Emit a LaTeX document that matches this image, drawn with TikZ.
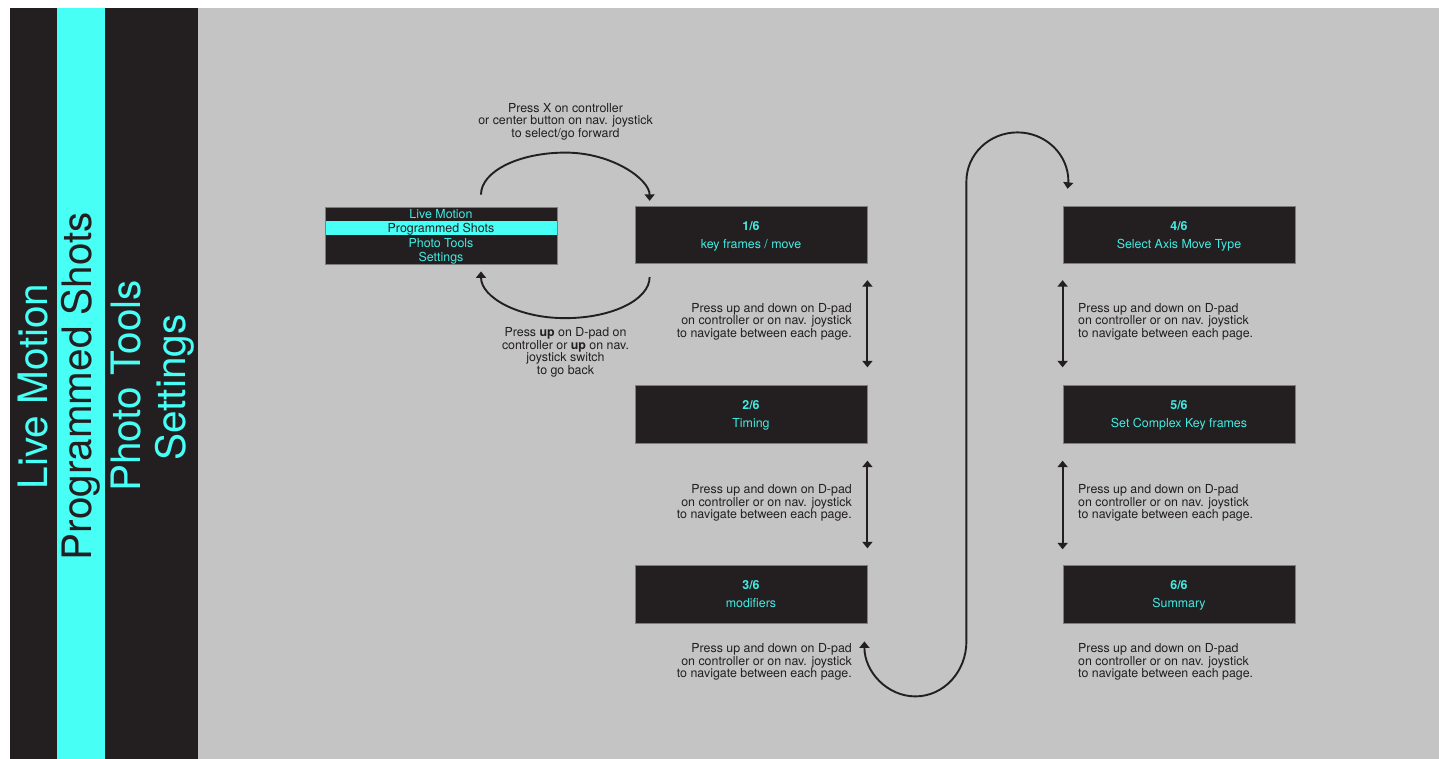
\documentclass[tikz,border=0pt]{standalone}
\usepackage{fontspec}
\setmainfont{TeX Gyre Heros}
\usetikzlibrary{arrows.meta}
\definecolor{ink}{RGB}{35,31,32}
\definecolor{cy}{RGB}{72,255,246}
\definecolor{cyt}{RGB}{66,236,228}
\definecolor{bg}{RGB}{196,196,196}
\definecolor{edgec}{RGB}{125,125,125}
\begin{document}
\begin{tikzpicture}[x=1pt,y=-1pt,
  pagebox/.style={draw=edgec, line width=0.8pt, fill=ink, minimum width=232pt, minimum height=57.5pt, inner sep=0pt},
  menurow/.style={fill=ink, minimum width=232pt, minimum height=14.25pt, inner sep=0pt, text height=8.9pt, text depth=0pt, font=\fontsize{12.4}{12.5}\selectfont, text=cyt},
  lbl/.style={inner sep=0pt, text height=8.9pt, text depth=0pt, font=\fontsize{12.4}{12.5}\selectfont, text=cyt},
  notetxt/.style={inner sep=0pt, font=\fontsize{12.4}{12.5}\selectfont, text=ink},
  sidetxt/.style={rotate=90, anchor=base, inner sep=0pt, font=\fontsize{40.5}{40.5}\selectfont},
  conn/.style={draw=ink, line width=1.9pt},
  fwd/.style={-{Triangle[width=10pt,length=6.5pt]}},
  both/.style={{Triangle[width=10pt,length=6.5pt]}-{Triangle[width=10pt,length=6.5pt]}}
]
\useasboundingbox (0,0) rectangle (1439,759);
\fill[white] (0,0) rectangle (1439,759);
\fill[ink] (10,8) rectangle (57,759);
\fill[cy] (57,8) rectangle (105,759);
\fill[ink] (105,8) rectangle (198,759);
\fill[bg] (198,8) rectangle (1439,759);

% sidebar texts
\node[sidetxt, text=cy] (sLM) at (47,386.5) {Live Motion};
\node[sidetxt, text=ink] (sPS) at (91.5,386) {Programmed Shots};
\node[sidetxt, text=cy] (sPT) at (140,386) {Photo Tools};
\node[sidetxt, text=cy] (sSE) at (185,387.5) {Settings};

% menu
\node[menurow] (m1) at (441,214.125) {Live Motion};
\node[menurow, fill=cy, text=ink] (m2) at (441,228.375) {Programmed Shots};
\node[menurow] (m3) at (441,242.625) {Photo Tools};
\node[menurow] (m4) at (441,256.875) {Settings};
\node[draw=edgec, line width=0.8pt, minimum width=232pt, minimum height=57pt, inner sep=0pt] (menu) at (441,235.5) {};

% page boxes
\node[pagebox] (b1) at (751,235) {};
\node[pagebox] (b2) at (751,414.5) {};
\node[pagebox] (b3) at (751,594.5) {};
\node[pagebox] (b4) at (1179,235) {};
\node[pagebox] (b5) at (1179,414.5) {};
\node[pagebox] (b6) at (1179,594.5) {};

\node[lbl] (b1a) at ([yshift=9pt]b1.center) {\bfseries 1/6};
\node[lbl] (b1b) at ([yshift=-9pt]b1.center) {key frames / move};
\node[lbl] (b2a) at ([yshift=9pt]b2.center) {\bfseries 2/6};
\node[lbl] (b2b) at ([yshift=-9pt]b2.center) {Timing};
\node[lbl] (b3a) at ([yshift=9pt]b3.center) {\bfseries 3/6};
\node[lbl] (b3b) at ([yshift=-9pt]b3.center) {modifiers};
\node[lbl] (b4a) at ([yshift=9pt]b4.center) {\bfseries 4/6};
\node[lbl] (b4b) at ([yshift=-9pt]b4.center) {Select Axis Move Type};
\node[lbl] (b5a) at ([yshift=9pt]b5.center) {\bfseries 5/6};
\node[lbl] (b5b) at ([yshift=-9pt]b5.center) {Set Complex Key frames};
\node[lbl] (b6a) at ([yshift=9pt]b6.center) {\bfseries 6/6};
\node[lbl] (b6b) at ([yshift=-9pt]b6.center) {Summary};

% notes
\node[notetxt, align=center] (nt) at (565.5,121.5) {Press X on controller\\or center button on nav. joystick\\to select/go forward};
\node[notetxt, align=center] (nb) at (565.5,352.5) {Press \textbf{up} on D-pad on\\controller or \textbf{up} on nav.\\joystick switch\\to go back};
\node[notetxt, align=right, anchor=east] (n1) at (852,321.5) {Press up and down on D-pad\\on controller or on nav. joystick\\to navigate between each page.};
\node[notetxt, align=right, anchor=east] (n2) at (852,503) {Press up and down on D-pad\\on controller or on nav. joystick\\to navigate between each page.};
\node[notetxt, align=right, anchor=east] (n3) at (852,662) {Press up and down on D-pad\\on controller or on nav. joystick\\to navigate between each page.};
\node[notetxt, align=left, anchor=west] (n4) at (1078,321.5) {Press up and down on D-pad\\on controller or on nav. joystick\\to navigate between each page.};
\node[notetxt, align=left, anchor=west] (n5) at (1078,503) {Press up and down on D-pad\\on controller or on nav. joystick\\to navigate between each page.};
\node[notetxt, align=left, anchor=west] (n6) at (1078,662) {Press up and down on D-pad\\on controller or on nav. joystick\\to navigate between each page.};

% connectors
\draw[conn, fwd] ([xshift=40pt,yshift=12pt]menu.north) .. controls +(0,-23.2) and +(-46.7,0) .. ++(84.5,-42) .. controls +(46.7,0) and +(0,-21.5) .. ([xshift=15pt,yshift=5pt]b1.north west);
\draw[conn, fwd] ([xshift=15pt,yshift=-13pt]b1.south west) .. controls +(0,22.6) and +(46.7,0) .. ++(-84.5,41) .. controls +(-46.7,0) and +(0,26) .. ([xshift=40pt,yshift=-7pt]menu.south);

\draw[conn, both] ([yshift=-16pt]b1.south east) -- ([yshift=18pt]b2.north east);
\draw[conn, both] ([yshift=-17pt]b2.south east) -- ([yshift=17pt]b3.north east);
\draw[conn, both] ([yshift=-16pt]b4.south west) -- ([yshift=18pt]b5.north west);
\draw[conn, both] ([yshift=-17pt]b5.south west) -- ([yshift=16pt]b6.north west);

\draw[conn, both] ([xshift=-3pt,yshift=-17.75pt]b3.south east) arc[start angle=180, end angle=0, x radius=51, y radius=55] -- ++(0,-460) arc[start angle=180, end angle=360, x radius=51, y radius=49] -- ([xshift=5pt,yshift=17pt]b4.north west);
\end{tikzpicture}
\end{document}
